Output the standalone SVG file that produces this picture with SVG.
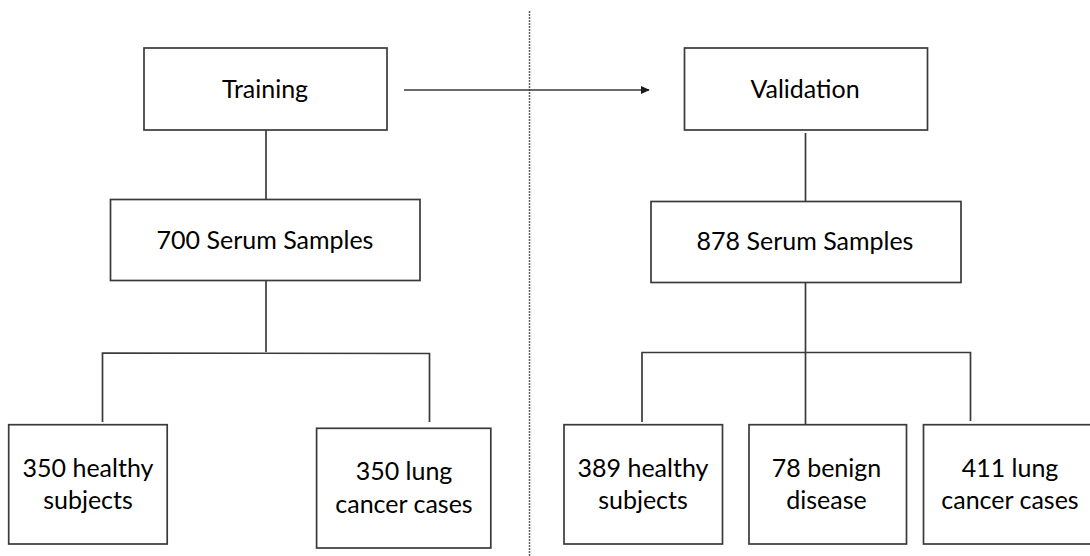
<svg xmlns="http://www.w3.org/2000/svg" width="1090" height="556" viewBox="0 0 1090 556">
<style>
.box{fill:#fff;stroke:#3a3a3a;stroke-width:1.7}
.ln{fill:none;stroke:#3a3a3a;stroke-width:1.7}
.t{font-family:Lato,"Liberation Sans",sans-serif;font-size:25px;fill:#000;text-anchor:middle}
</style>
<defs>
<marker id="ah" viewBox="0 0 10 10" refX="9" refY="5" markerWidth="9" markerHeight="8" markerUnits="userSpaceOnUse" orient="auto" preserveAspectRatio="none">
<path d="M0,0 L10,5 L0,10 z" fill="#1a1a1a"/>
</marker>
</defs>
<rect width="1090" height="556" fill="#fff"/>
<g id="divider"><line x1="529.5" y1="11" x2="529.5" y2="556" stroke="#606060" stroke-width="1.5" stroke-dasharray="2,1"/></g>
<g id="connectors">
<line class="ln" x1="404" y1="90" x2="649" y2="90" marker-end="url(#ah)"/>
<line class="ln" x1="266" y1="130" x2="266" y2="199"/>
<line class="ln" x1="266" y1="280" x2="266" y2="352"/>
<polyline class="ln" points="102.5,422 102.5,353 429.5,353.5 429.5,422"/>
<line class="ln" x1="805.5" y1="133" x2="805.5" y2="201"/>
<line class="ln" x1="805.5" y1="282" x2="805.5" y2="424"/>
<polyline class="ln" points="642,422 642,352.5 970.5,352.5 970.5,421"/>
</g>
<g id="training"><rect class="box" x="144" y="48" width="243" height="82"/><text class="t" x="265" y="98">Training</text></g>
<g id="validation"><rect class="box" x="684.5" y="48" width="243" height="82"/><text class="t" x="805" y="98">Validation</text></g>
<g id="serum700"><rect class="box" x="110.5" y="199.5" width="309.5" height="81"/><text class="t" x="265" y="249">700 Serum Samples</text></g>
<g id="serum878"><rect class="box" x="651" y="201.5" width="310" height="81"/><text class="t" x="805" y="250">878 Serum Samples</text></g>
<g id="healthy350"><rect class="box" x="8.7" y="424.7" width="158.5" height="119.3"/><text class="t" x="88" y="477">350 healthy</text><text class="t" x="88" y="509">subjects</text></g>
<g id="lung350"><rect class="box" x="316.6" y="428.3" width="174.2" height="119.7"/><text class="t" x="404" y="480">350 lung</text><text class="t" x="404" y="513">cancer cases</text></g>
<g id="healthy389"><rect class="box" x="564" y="424.7" width="158.5" height="119.3"/><text class="t" x="643" y="477">389 healthy</text><text class="t" x="643" y="509">subjects</text></g>
<g id="benign78"><rect class="box" x="749" y="424.7" width="157.5" height="119.3"/><text class="t" x="826.5" y="477">78 benign</text><text class="t" x="826.5" y="509">disease</text></g>
<g id="lung411"><rect class="box" x="923.5" y="424.7" width="180" height="119.3"/><text class="t" x="1010" y="477">411 lung</text><text class="t" x="1010" y="509">cancer cases</text></g>
</svg>
